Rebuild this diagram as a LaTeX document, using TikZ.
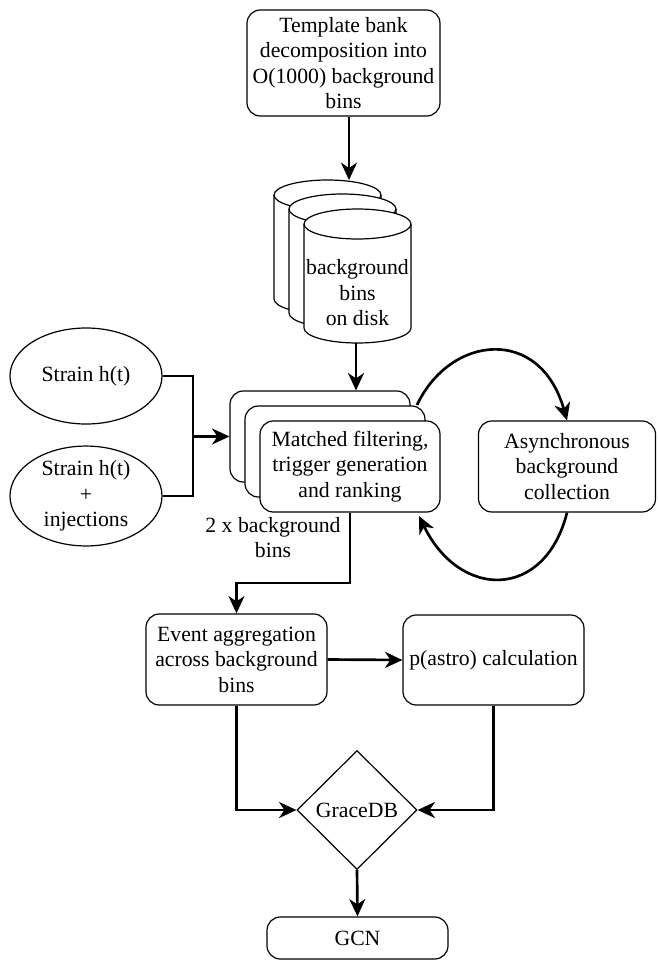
\documentclass[tikz,border=0pt]{standalone}
\usepackage{fontspec}
\setmainfont{Liberation Serif}
\newfontfamily\tfont{Liberation Serif}
\usetikzlibrary{shapes.geometric,arrows.meta}
\begin{document}
\begin{tikzpicture}[x=0.75pt,y=0.75pt,
  every node/.style={font=\tfont\fontsize{16.3}{19.1}\selectfont, align=center, inner sep=0pt},
  rbox/.style={draw, line width=0.9pt, rounded corners=10pt, fill=white},
  ell/.style={draw, line width=0.9pt, ellipse, fill=white, minimum width=114pt, minimum height=72pt},
  dia/.style={draw, line width=0.9pt, diamond, fill=white, minimum width=90pt, minimum height=89.25pt},
  conn/.style={line width=2pt, -{Stealth[length=13pt,width=12pt,inset=4pt]}},
  plain/.style={line width=2pt}]
\useasboundingbox[fill=white] (0,0) rectangle (657,-960);

% top box
\node[rbox, minimum width=144.75pt, minimum height=79.5pt] (top) at (343.5,-63) {Template bank\\decomposition into\\O(1000) background\\bins};

% cylinders
\foreach \L/\T in {274/180, 289/194, 304/209}{
  \filldraw[fill=white, line width=0.9pt] (\L,-\T-15) -- (\L,-\T-119) arc[start angle=180, end angle=360, x radius=40.125pt, y radius=11.25pt] -- (\L+107,-\T-15) arc[start angle=0, end angle=180, x radius=40.125pt, y radius=11.25pt] -- cycle;
  \draw[line width=0.9pt] (\L,-\T-15) arc[start angle=180, end angle=360, x radius=40.125pt, y radius=11.25pt];
}
\node (cyl) at (357.5,-293) {background\\bins\\on disk};
\coordinate (cyltop) at (349,-180);
\coordinate (cylbot) at (356,-343);

% stack boxes
\node[rbox, minimum width=135pt, minimum height=68.25pt] (back) at (320,-436.5) {};
\node[rbox, minimum width=135pt, minimum height=68.25pt] (mid) at (335,-451.5) {};
\node[rbox, minimum width=135pt, minimum height=68.25pt] (front) at (350,-466.5) {Matched filtering,\\trigger generation\\and ranking};

% async
\node[rbox, minimum width=132.75pt, minimum height=68.25pt] (async) at (567,-466.5) {Asynchronous\\background\\collection};

% ellipses
\node[ell] (e1) at (86,-376) {Strain h(t)};
\node[ell] (e2) at (86,-496) {Strain h(t)\\+\\injections};

\node (lbl) at (273,-537.5) {2 x background\\bins};

% lower boxes
\node[rbox, minimum width=135.75pt, minimum height=68.25pt] (event) at (236.5,-659.5) {Event aggregation\\across background\\bins};
\node[rbox, minimum width=135.75pt, minimum height=67.5pt] (pastro) at (493.5,-660) {p(astro) calculation};
\node[dia] (grace) at (357,-810) {GraceDB};
\node[rbox, minimum width=135.75pt, minimum height=31.5pt] (gcn) at (357.5,-938) {GCN};

% connectors
\draw[conn] (top.south -| cyltop) -- (cyltop);
\draw[conn] (cylbot) -- (cylbot |- back.north);
\coordinate (j) at (193,-436.5);
\draw[plain] (e1.east) -| (j);
\draw[plain] (e2.east) -| (j);
\draw[conn] (j) -- (back.west);

\coordinate (c1) at (417,-405);
\coordinate (c2) at (419,-516);
\draw[conn] (c1) .. controls (450,-335) and (540,-325) .. (async.north);
\draw[conn] (async.south) .. controls (545,-600) and (460,-600) .. (c2);

\coordinate (b1) at (0,-583);
\draw[conn] (front.south) -- (front.south |- b1) -| (event.north);
\draw[conn] (event.east) -- (pastro.west);
\draw[conn] (event.south) |- (grace.west);
\draw[conn] (pastro.south) |- (grace.east);
\draw[conn] (grace.south) -- (gcn.north);
\end{tikzpicture}
\end{document}
